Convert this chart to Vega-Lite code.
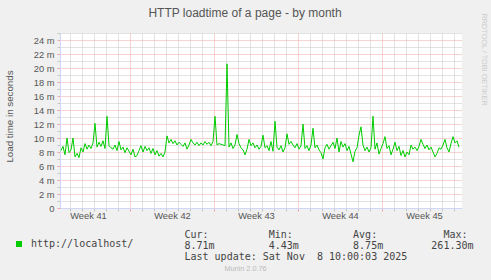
{
  "$schema": "https://vega.github.io/schema/vega-lite/v6.json",
  "width": 402,
  "height": 175,
  "autosize": {"type": "none"},
  "padding": {"left": 60, "top": 33, "right": 29, "bottom": 72},
  "background": "#F0F0F0",
  "title": {
    "text": "HTTP loadtime of a page - by month",
    "anchor": "middle",
    "frame": "group",
    "dx": -16,
    "dy": 7,
    "offset": 0,
    "font": "Liberation Sans",
    "fontSize": 12,
    "fontWeight": "normal",
    "color": "#555555"
  },
  "config": {
    "view": {"fill": "#FFFFFF", "stroke": null}
  },
  "data": {
    "values": [
      {"t":"2025-10-06T06:00:00Z","v":8.2},{"t":"2025-10-06T10:00:00Z","v":8.8},{"t":"2025-10-06T14:00:00Z","v":7.6},{"t":"2025-10-06T18:00:00Z","v":10.0},{"t":"2025-10-06T22:00:00Z","v":7.9},
      {"t":"2025-10-07T02:00:00Z","v":8.3},{"t":"2025-10-07T06:00:00Z","v":10.0},{"t":"2025-10-07T10:00:00Z","v":7.3},{"t":"2025-10-07T14:00:00Z","v":7.8},{"t":"2025-10-07T18:00:00Z","v":7.2},{"t":"2025-10-07T22:00:00Z","v":8.6},
      {"t":"2025-10-08T02:00:00Z","v":8.0},{"t":"2025-10-08T06:00:00Z","v":9.2},{"t":"2025-10-08T10:00:00Z","v":8.4},{"t":"2025-10-08T14:00:00Z","v":9.0},{"t":"2025-10-08T18:00:00Z","v":8.5},{"t":"2025-10-08T22:00:00Z","v":9.3},
      {"t":"2025-10-09T02:00:00Z","v":12.1},{"t":"2025-10-09T06:00:00Z","v":8.7},{"t":"2025-10-09T10:00:00Z","v":9.4},{"t":"2025-10-09T14:00:00Z","v":8.8},{"t":"2025-10-09T18:00:00Z","v":9.6},{"t":"2025-10-09T22:00:00Z","v":8.5},
      {"t":"2025-10-10T02:00:00Z","v":13.1},{"t":"2025-10-10T06:00:00Z","v":8.9},{"t":"2025-10-10T10:00:00Z","v":8.6},{"t":"2025-10-10T14:00:00Z","v":8.4},{"t":"2025-10-10T18:00:00Z","v":9.0},{"t":"2025-10-10T22:00:00Z","v":8.2},
      {"t":"2025-10-11T02:00:00Z","v":9.5},{"t":"2025-10-11T06:00:00Z","v":8.3},{"t":"2025-10-11T10:00:00Z","v":8.7},{"t":"2025-10-11T14:00:00Z","v":7.9},{"t":"2025-10-11T18:00:00Z","v":8.6},{"t":"2025-10-11T22:00:00Z","v":8.1},
      {"t":"2025-10-12T02:00:00Z","v":7.6},{"t":"2025-10-12T06:00:00Z","v":8.4},{"t":"2025-10-12T10:00:00Z","v":7.3},{"t":"2025-10-12T14:00:00Z","v":7.5},{"t":"2025-10-12T18:00:00Z","v":8.2},{"t":"2025-10-12T22:00:00Z","v":8.9},
      {"t":"2025-10-13T02:00:00Z","v":8.0},{"t":"2025-10-13T06:00:00Z","v":8.8},{"t":"2025-10-13T10:00:00Z","v":8.2},{"t":"2025-10-13T14:00:00Z","v":8.6},{"t":"2025-10-13T18:00:00Z","v":7.8},{"t":"2025-10-13T22:00:00Z","v":8.5},
      {"t":"2025-10-14T02:00:00Z","v":7.6},{"t":"2025-10-14T06:00:00Z","v":8.2},{"t":"2025-10-14T10:00:00Z","v":7.4},{"t":"2025-10-14T14:00:00Z","v":7.8},{"t":"2025-10-14T18:00:00Z","v":7.3},{"t":"2025-10-14T22:00:00Z","v":8.0},
      {"t":"2025-10-15T02:00:00Z","v":10.3},{"t":"2025-10-15T06:00:00Z","v":9.3},{"t":"2025-10-15T10:00:00Z","v":9.8},{"t":"2025-10-15T14:00:00Z","v":9.2},{"t":"2025-10-15T18:00:00Z","v":9.6},{"t":"2025-10-15T22:00:00Z","v":9.0},
      {"t":"2025-10-16T02:00:00Z","v":9.4},{"t":"2025-10-16T06:00:00Z","v":9.1},{"t":"2025-10-16T10:00:00Z","v":8.8},{"t":"2025-10-16T14:00:00Z","v":9.3},{"t":"2025-10-16T18:00:00Z","v":8.4},{"t":"2025-10-16T22:00:00Z","v":9.0},
      {"t":"2025-10-17T02:00:00Z","v":9.8},{"t":"2025-10-17T06:00:00Z","v":9.3},{"t":"2025-10-17T10:00:00Z","v":9.0},{"t":"2025-10-17T14:00:00Z","v":9.4},{"t":"2025-10-17T18:00:00Z","v":8.9},{"t":"2025-10-17T22:00:00Z","v":9.3},
      {"t":"2025-10-18T02:00:00Z","v":9.0},{"t":"2025-10-18T06:00:00Z","v":9.5},{"t":"2025-10-18T10:00:00Z","v":9.1},{"t":"2025-10-18T14:00:00Z","v":9.4},{"t":"2025-10-18T18:00:00Z","v":8.9},{"t":"2025-10-18T22:00:00Z","v":9.5},
      {"t":"2025-10-19T02:00:00Z","v":13.1},{"t":"2025-10-19T06:00:00Z","v":9.0},{"t":"2025-10-19T10:00:00Z","v":9.2},{"t":"2025-10-19T14:00:00Z","v":9.1},{"t":"2025-10-19T18:00:00Z","v":9.0},{"t":"2025-10-19T22:00:00Z","v":8.9},
      {"t":"2025-10-20T02:00:00Z","v":20.6},{"t":"2025-10-20T06:00:00Z","v":8.7},{"t":"2025-10-20T10:00:00Z","v":9.3},{"t":"2025-10-20T14:00:00Z","v":8.5},{"t":"2025-10-20T18:00:00Z","v":9.0},{"t":"2025-10-20T22:00:00Z","v":10.5},
      {"t":"2025-10-21T02:00:00Z","v":9.2},{"t":"2025-10-21T06:00:00Z","v":8.6},{"t":"2025-10-21T10:00:00Z","v":8.3},{"t":"2025-10-21T14:00:00Z","v":7.6},{"t":"2025-10-21T18:00:00Z","v":8.4},{"t":"2025-10-21T22:00:00Z","v":9.8},
      {"t":"2025-10-22T02:00:00Z","v":8.9},{"t":"2025-10-22T06:00:00Z","v":9.3},{"t":"2025-10-22T10:00:00Z","v":8.6},{"t":"2025-10-22T14:00:00Z","v":9.0},{"t":"2025-10-22T18:00:00Z","v":8.4},{"t":"2025-10-22T22:00:00Z","v":8.8},
      {"t":"2025-10-23T02:00:00Z","v":10.4},{"t":"2025-10-23T06:00:00Z","v":8.6},{"t":"2025-10-23T10:00:00Z","v":8.9},{"t":"2025-10-23T14:00:00Z","v":8.2},{"t":"2025-10-23T18:00:00Z","v":9.5},{"t":"2025-10-23T22:00:00Z","v":8.1},
      {"t":"2025-10-24T02:00:00Z","v":12.4},{"t":"2025-10-24T06:00:00Z","v":8.7},{"t":"2025-10-24T10:00:00Z","v":8.3},{"t":"2025-10-24T14:00:00Z","v":8.9},{"t":"2025-10-24T18:00:00Z","v":8.0},{"t":"2025-10-24T22:00:00Z","v":8.6},
      {"t":"2025-10-25T02:00:00Z","v":10.6},{"t":"2025-10-25T06:00:00Z","v":9.1},{"t":"2025-10-25T10:00:00Z","v":9.5},{"t":"2025-10-25T14:00:00Z","v":9.0},{"t":"2025-10-25T18:00:00Z","v":8.6},{"t":"2025-10-25T22:00:00Z","v":9.2},
      {"t":"2025-10-26T02:00:00Z","v":8.4},{"t":"2025-10-26T06:00:00Z","v":8.9},{"t":"2025-10-26T10:00:00Z","v":12.0},{"t":"2025-10-26T14:00:00Z","v":8.5},{"t":"2025-10-26T18:00:00Z","v":8.9},{"t":"2025-10-26T22:00:00Z","v":8.2},
      {"t":"2025-10-27T02:00:00Z","v":9.0},{"t":"2025-10-27T06:00:00Z","v":11.4},{"t":"2025-10-27T10:00:00Z","v":8.6},{"t":"2025-10-27T14:00:00Z","v":9.0},{"t":"2025-10-27T18:00:00Z","v":8.3},{"t":"2025-10-27T22:00:00Z","v":7.9},
      {"t":"2025-10-28T02:00:00Z","v":7.0},{"t":"2025-10-28T06:00:00Z","v":8.6},{"t":"2025-10-28T10:00:00Z","v":9.1},{"t":"2025-10-28T14:00:00Z","v":8.4},{"t":"2025-10-28T18:00:00Z","v":8.9},{"t":"2025-10-28T22:00:00Z","v":9.4},
      {"t":"2025-10-29T02:00:00Z","v":8.5},{"t":"2025-10-29T06:00:00Z","v":10.0},{"t":"2025-10-29T10:00:00Z","v":8.0},{"t":"2025-10-29T14:00:00Z","v":9.5},{"t":"2025-10-29T18:00:00Z","v":8.7},{"t":"2025-10-29T22:00:00Z","v":9.2},
      {"t":"2025-10-30T02:00:00Z","v":8.2},{"t":"2025-10-30T06:00:00Z","v":8.8},{"t":"2025-10-30T10:00:00Z","v":7.7},{"t":"2025-10-30T14:00:00Z","v":6.6},{"t":"2025-10-30T18:00:00Z","v":8.1},{"t":"2025-10-30T22:00:00Z","v":8.6},
      {"t":"2025-10-31T02:00:00Z","v":10.4},{"t":"2025-10-31T06:00:00Z","v":11.6},{"t":"2025-10-31T10:00:00Z","v":9.0},{"t":"2025-10-31T14:00:00Z","v":8.2},{"t":"2025-10-31T18:00:00Z","v":8.7},{"t":"2025-10-31T22:00:00Z","v":8.0},
      {"t":"2025-11-01T02:00:00Z","v":8.6},{"t":"2025-11-01T06:00:00Z","v":13.1},{"t":"2025-11-01T10:00:00Z","v":8.4},{"t":"2025-11-01T14:00:00Z","v":9.3},{"t":"2025-11-01T18:00:00Z","v":7.7},{"t":"2025-11-01T22:00:00Z","v":8.5},
      {"t":"2025-11-02T02:00:00Z","v":9.2},{"t":"2025-11-02T06:00:00Z","v":10.2},{"t":"2025-11-02T10:00:00Z","v":8.5},{"t":"2025-11-02T14:00:00Z","v":8.9},{"t":"2025-11-02T18:00:00Z","v":7.6},{"t":"2025-11-02T22:00:00Z","v":8.4},
      {"t":"2025-11-03T02:00:00Z","v":9.4},{"t":"2025-11-03T06:00:00Z","v":8.2},{"t":"2025-11-03T10:00:00Z","v":8.8},{"t":"2025-11-03T14:00:00Z","v":7.5},{"t":"2025-11-03T18:00:00Z","v":8.2},{"t":"2025-11-03T22:00:00Z","v":7.3},
      {"t":"2025-11-04T02:00:00Z","v":8.0},{"t":"2025-11-04T06:00:00Z","v":7.6},{"t":"2025-11-04T10:00:00Z","v":9.0},{"t":"2025-11-04T14:00:00Z","v":8.4},{"t":"2025-11-04T18:00:00Z","v":8.7},{"t":"2025-11-04T22:00:00Z","v":8.2},
      {"t":"2025-11-05T02:00:00Z","v":8.8},{"t":"2025-11-05T06:00:00Z","v":9.8},{"t":"2025-11-05T10:00:00Z","v":9.1},{"t":"2025-11-05T14:00:00Z","v":8.5},{"t":"2025-11-05T18:00:00Z","v":9.0},{"t":"2025-11-05T22:00:00Z","v":8.3},
      {"t":"2025-11-06T02:00:00Z","v":8.7},{"t":"2025-11-06T06:00:00Z","v":8.0},{"t":"2025-11-06T10:00:00Z","v":7.3},{"t":"2025-11-06T14:00:00Z","v":7.8},{"t":"2025-11-06T18:00:00Z","v":8.6},{"t":"2025-11-06T22:00:00Z","v":8.4},
      {"t":"2025-11-07T02:00:00Z","v":9.0},{"t":"2025-11-07T06:00:00Z","v":9.8},{"t":"2025-11-07T10:00:00Z","v":8.6},{"t":"2025-11-07T14:00:00Z","v":8.0},{"t":"2025-11-07T18:00:00Z","v":9.2},{"t":"2025-11-07T22:00:00Z","v":10.2},
      {"t":"2025-11-08T02:00:00Z","v":9.3},{"t":"2025-11-08T06:00:00Z","v":9.6},{"t":"2025-11-08T10:00:00Z","v":8.7}
    ]
  },
  "layer": [
    {
      "mark": {"type": "line", "strokeWidth": 1, "interpolate": "linear"},
      "encoding": {
        "x": {
          "field": "t",
          "type": "temporal",
          "scale": {
            "type": "utc",
            "domain": [
              {"year": 2025, "month": 10, "date": 6, "hours": 4, "utc": true},
              {"year": 2025, "month": 11, "date": 8, "hours": 16, "utc": true}
            ]
          },
          "axis": {
            "orient": "bottom",
            "values": [1759795200000, 1759881600000, 1759968000000, 1760054400000, 1760140800000, 1760227200000, 1760313600000, 1760400000000, 1760486400000, 1760572800000, 1760659200000, 1760745600000, 1760832000000, 1760918400000, 1761004800000, 1761091200000, 1761177600000, 1761264000000, 1761350400000, 1761436800000, 1761523200000, 1761609600000, 1761696000000, 1761782400000, 1761868800000, 1761955200000, 1762041600000, 1762128000000, 1762214400000, 1762300800000, 1762387200000, 1762473600000, 1762560000000, 1759924800000, 1760529600000, 1761134400000, 1761739200000, 1762344000000],
            "grid": true,
            "gridDash": [1, 1],
            "gridWidth": 1,
            "gridColor": {"condition": {"test": "utcday(datum.value) === 0 && utchours(datum.value) === 0", "value": "#F2A5A5"}, "value": "#C6C6C6"},
            "gridOpacity": {"condition": {"test": "utchours(datum.value) === 12", "value": 0}, "value": 1},
            "ticks": true,
            "tickSize": 3,
            "tickWidth": 1,
            "tickColor": {"condition": {"test": "utcday(datum.value) === 0 && utchours(datum.value) === 0", "value": "#F2A5A5"}, "value": "#C6C6C6"},
            "tickOpacity": {"condition": {"test": "utchours(datum.value) === 12", "value": 0}, "value": 1},
            "domain": true,
            "domainColor": "#CFD6F8",
            "domainWidth": 1,
            "labelExpr": "utchours(datum.value) === 12 ? 'Week ' + utcFormat(datum.value, '%V') : ''",
            "labelFont": "Liberation Sans",
            "labelFontSize": 9.3,
            "labelColor": "#555555",
            "labelPadding": 0,
            "labelAngle": 0,
            "labelAlign": "center",
            "labelBaseline": "top",
            "labelOverlap": false,
            "labelFlush": false,
            "labelBound": false,
            "title": [
              "Cur:\u00a0\u00a0\u00a0\u00a0\u00a0\u00a0\u00a0\u00a0\u00a0\u00a0Min:\u00a0\u00a0\u00a0\u00a0\u00a0\u00a0\u00a0\u00a0\u00a0\u00a0Avg:\u00a0\u00a0\u00a0\u00a0\u00a0\u00a0\u00a0\u00a0\u00a0\u00a0\u00a0Max:",
              "\u00a08.71m\u00a0\u00a0\u00a0\u00a0\u00a0\u00a0\u00a0\u00a0\u00a04.43m\u00a0\u00a0\u00a0\u00a0\u00a0\u00a0\u00a0\u00a0\u00a08.75m\u00a0\u00a0\u00a0\u00a0\u00a0\u00a0\u00a0\u00a0261.30m",
              "\u00a0\u00a0\u00a0\u00a0\u00a0\u00a0\u00a0\u00a0\u00a0\u00a0\u00a0\u00a0Last\u00a0update:\u00a0Sat\u00a0Nov\u00a0\u00a08\u00a010:00:03\u00a02025"
            ],
            "titleFont": "DejaVu Sans Mono",
            "titleFontSize": 10,
            "titleFontWeight": "normal",
            "titleColor": "#444444",
            "titleAlign": "left",
            "titleBaseline": "top",
            "titleAngle": 0,
            "titleLineHeight": 11.3,
            "titleX": 124,
            "titleY": 21
          }
        },
        "y": {
          "field": "v",
          "type": "quantitative",
          "scale": {"domain": [0, 25], "nice": false, "zero": true},
          "axis": {
            "orient": "left",
            "values": [0, 1, 2, 3, 4, 5, 6, 7, 8, 9, 10, 11, 12, 13, 14, 15, 16, 17, 18, 19, 20, 21, 22, 23, 24, 25],
            "grid": true,
            "gridDash": [1, 1],
            "gridWidth": 1,
            "gridColor": {"condition": {"test": "datum.value % 2 === 0", "value": "#F2A5A5"}, "value": "#C6C6C6"},
            "ticks": true,
            "tickSize": 3,
            "tickColor": {"condition": {"test": "datum.value % 2 === 0", "value": "#F2A5A5"}, "value": "#C6C6C6"},
            "domain": true,
            "domainColor": "#CFD6F8",
            "domainWidth": 1,
            "labelExpr": "datum.value % 2 === 0 ? (datum.value === 0 ? '0' : datum.value + ' m') : ''",
            "labelFont": "Liberation Sans",
            "labelFontSize": 9.3,
            "labelColor": "#555555",
            "labelPadding": 3,
            "labelOverlap": false,
            "labelFlush": false,
            "labelBound": false,
            "title": "Load time in seconds",
            "titleFont": "Liberation Sans",
            "titleFontSize": 9.75,
            "titleFontWeight": "normal",
            "titleColor": "#555555",
            "titleAngle": -90,
            "titleAlign": "center",
            "titleBaseline": "middle",
            "titleX": -51,
            "titleY": 83
          }
        },
        "color": {
          "datum": "http://localhost/",
          "scale": {"range": ["#00CC00"]},
          "legend": {
            "orient": "none",
            "legendX": -46,
            "legendY": 206,
            "title": null,
            "padding": 0,
            "symbolType": "square",
            "symbolSize": 36,
            "symbolStrokeWidth": 0,
            "symbolFillColor": "#00CC00",
            "labelFont": "DejaVu Sans Mono",
            "labelFontSize": 10,
            "labelColor": "#444444",
            "labelOffset": 7,
            "encode": {"symbols": {"update": {"fill": {"value": "#00CC00"}, "fillOpacity": {"value": 1}, "strokeWidth": {"value": 0}}}}
          }
        }
      }
    },
    {
      "mark": {"type": "line", "strokeOpacity": 0},
      "encoding": {
        "x": {
          "field": "t",
          "type": "temporal",
          "axis": {
            "orient": "top",
            "domain": false,
            "ticks": false,
            "labels": false,
            "grid": false,
            "title": "Munin 2.0.76",
            "titleFont": "Liberation Sans",
            "titleFontSize": 7.3,
            "titleFontWeight": "normal",
            "titleColor": "#BBBBBB",
            "titleAlign": "center",
            "titleBaseline": "middle",
            "titleX": 185,
            "titleY": 235
          }
        },
        "y": {
          "field": "v",
          "type": "quantitative",
          "axis": {
            "orient": "right",
            "domain": false,
            "ticks": false,
            "labels": false,
            "grid": false,
            "title": "RRDTOOL / TOBI OETIKER",
            "titleFont": "Liberation Sans",
            "titleFontSize": 7.3,
            "titleFontWeight": "normal",
            "titleColor": "#CCCCCC",
            "titleAngle": 90,
            "titleAlign": "left",
            "titleBaseline": "middle",
            "titleX": 21.5,
            "titleY": -20
          }
        }
      }
    }
  ],
  "resolve": {"axis": {"x": "independent", "y": "independent"}}
}
